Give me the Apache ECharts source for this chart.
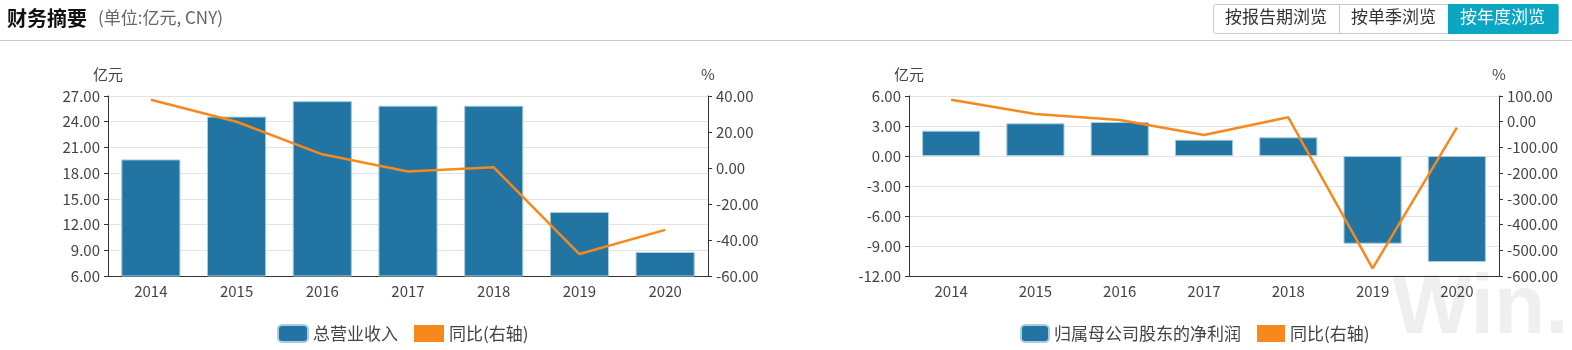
<!DOCTYPE html>
<html><head><meta charset="utf-8">
<script src="https://cdn.jsdelivr.net/npm/echarts@6/dist/echarts.min.js"></script>
<style>html,body{margin:0;padding:0;background:#fff;}#c{width:1572px;height:350px;}</style>
</head><body><div id="c"></div>
<script>
const years = ['2014','2015','2016','2017','2018','2019','2020'];
const revenue = [19.6, 24.6, 26.4, 25.87, 25.87, 13.47, 8.8];
const revenueYoY = [37.9, 25.7, 7.6, -2.0, 0.4, -47.8, -34.4];
const netProfit = [2.53, 3.27, 3.4, 1.63, 1.87, -8.77, -10.6];
const netProfitYoY = [85.6, 30, 7, -51.7, 17, -570, -23];
const leftTicks1 = {min: 6, max: 27, interval: 3};
const rightTicks1 = {min: -60, max: 40, interval: 20};
const leftTicks2 = {min: -12, max: 6, interval: 3};
const rightTicks2 = {min: -600, max: 100, interval: 100};

const FONT = '"Noto Sans CJK SC", "Noto Sans", sans-serif';
const BAR = '#2275a2';
const ORANGE = '#f7891c';
const txt = '#444';

function yAx(gi, t, name, pos, split) {
  return {
    type: 'value', gridIndex: gi, position: pos, min: t.min, max: t.max, interval: t.interval,
    name: name, nameLocation: 'end', nameGap: 14,
    nameTextStyle: {color: txt, fontSize: 15, fontFamily: FONT, align: 'center'},
    axisLine: {show: true, lineStyle: {color: '#333'}},
    axisTick: {show: true, length: 4, lineStyle: {color: '#333'}},
    axisLabel: {color: txt, fontSize: 15, fontFamily: FONT, margin: 8, formatter: v => v.toFixed(2)},
    splitLine: {show: split, lineStyle: {color: '#e3e3e3', width: 1}}
  };
}
function xAx(gi) {
  return {
    type: 'category', gridIndex: gi, data: years,
    axisLine: {onZero: false, lineStyle: {color: '#333'}},
    axisTick: {alignWithLabel: true, length: 4, lineStyle: {color: '#333'}},
    axisLabel: {color: txt, fontSize: 15, fontFamily: FONT, margin: 8}
  };
}

const chart = echarts.init(document.getElementById('c'), null, {renderer: 'canvas'});
chart.setOption({
  animation: false,
  textStyle: {fontFamily: FONT},
  graphic: [
    {type: 'text', z: -10, left: 1392, top: 268, style: {text: 'Win.d', font: 'bold 84px "Liberation Sans", Arial, sans-serif', fill: '#efefef'}},
    {type: 'text', left: 7, top: 8, style: {text: '财务摘要', font: 'bold 20px ' + FONT, fill: '#111'}},
    {type: 'text', left: 98, top: 9, style: {text: '(单位:亿元, CNY)', font: '17px ' + FONT, fill: '#666'}},
    {type: 'line', shape: {x1: 0, y1: 40.5, x2: 1572, y2: 40.5}, style: {stroke: '#c8c8c8', lineWidth: 1}},
    {type: 'rect', shape: {x: 1213.5, y: 4.5, width: 345, height: 29, r: 2}, style: {fill: '#fff', stroke: '#c8c8c8', lineWidth: 1}},
    {type: 'rect', shape: {x: 1448, y: 4, width: 110.5, height: 30, r: [0, 2, 2, 0]}, style: {fill: '#0aa6c4'}},
    {type: 'line', shape: {x1: 1339.5, y1: 4.5, x2: 1339.5, y2: 33.5}, style: {stroke: '#c8c8c8', lineWidth: 1}},
    {type: 'text', left: 1225, top: 8, style: {text: '按报告期浏览', font: '17px ' + FONT, fill: '#333'}},
    {type: 'text', left: 1351, top: 8, style: {text: '按单季浏览', font: '17px ' + FONT, fill: '#333'}},
    {type: 'text', left: 1460, top: 8, style: {text: '按年度浏览', font: '17px ' + FONT, fill: '#fff'}}
  ],
  grid: [
    {left: 108, top: 96, width: 600, height: 180},
    {left: 909, top: 96, width: 590, height: 180}
  ],
  legend: [
    {left: 272, top: 319, itemWidth: 30, itemHeight: 17, itemGap: 16,
     textStyle: {color: txt, fontSize: 17, fontFamily: FONT},
     data: [{name: '总营业收入', icon: 'roundRect'}, {name: '同比(右轴)', icon: 'rect', itemStyle: {color: ORANGE}}]},
    {left: 1015, top: 319, itemWidth: 28, itemHeight: 17, itemGap: 16,
     textStyle: {color: txt, fontSize: 17, fontFamily: FONT},
     data: [{name: '归属母公司股东的净利润', icon: 'roundRect'}, {name: '同比(右轴) ', icon: 'rect', itemStyle: {color: ORANGE}}]}
  ],
  xAxis: [xAx(0), xAx(1)],
  yAxis: [
    yAx(0, leftTicks1, '亿元', 'left', true),
    yAx(0, rightTicks1, '%', 'right', false),
    yAx(1, leftTicks2, '亿元', 'left', true),
    yAx(1, rightTicks2, '%', 'right', false)
  ],
  series: [
    {name: '总营业收入', type: 'bar', xAxisIndex: 0, yAxisIndex: 0, data: revenue, barWidth: '69%',
     itemStyle: {color: BAR, borderColor: '#a6cde0', borderWidth: 1}},
    {name: '同比(右轴)', type: 'line', xAxisIndex: 0, yAxisIndex: 1, data: revenueYoY, showSymbol: false,
     lineStyle: {color: ORANGE, width: 2.5}, itemStyle: {color: ORANGE}},
    {name: '归属母公司股东的净利润', type: 'bar', xAxisIndex: 1, yAxisIndex: 2, data: netProfit, barWidth: '69%',
     itemStyle: {color: BAR, borderColor: '#a6cde0', borderWidth: 1}},
    {name: '同比(右轴) ', type: 'line', xAxisIndex: 1, yAxisIndex: 3, data: netProfitYoY, showSymbol: false,
     lineStyle: {color: ORANGE, width: 2.5}, itemStyle: {color: ORANGE}}
  ]
});
</script></body></html>
